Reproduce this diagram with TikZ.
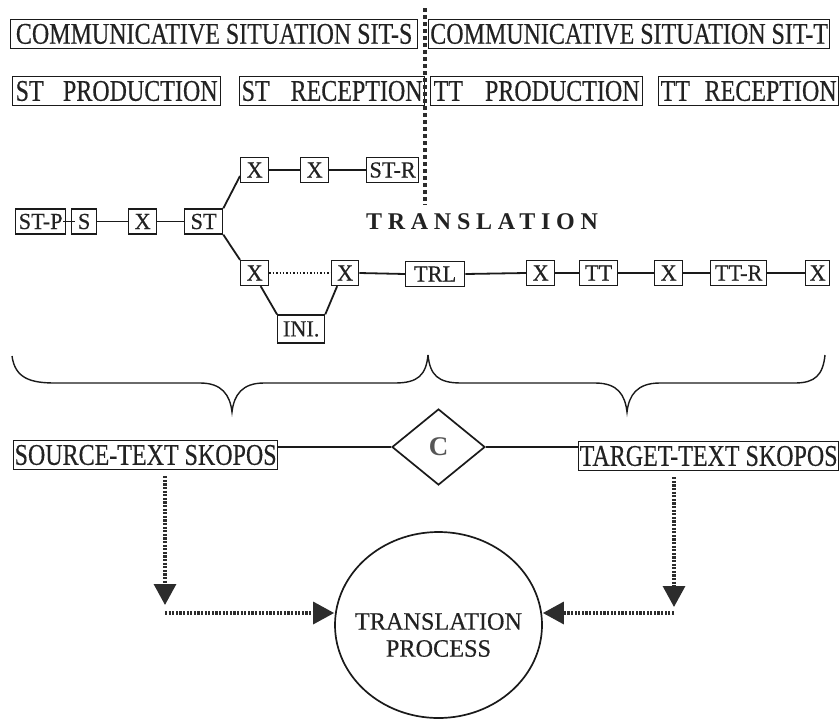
\documentclass[tikz,border=0pt]{standalone}
\usepackage{fontspec}
\setmainfont{Liberation Serif}
\newfontfamily\bigf[FakeStretch=0.8,FakeBold=0.4]{Liberation Serif}
\newfontfamily\smallf[FakeStretch=0.97,FakeBold=0.4]{Liberation Serif}
\newfontfamily\spacedf[LetterSpace=24]{Liberation Serif}
\usetikzlibrary{shapes.geometric,arrows.meta,calc}
\definecolor{ink}{HTML}{1A1A1A}
\definecolor{txt}{HTML}{222222}
\definecolor{arr}{HTML}{2C2C2C}
\begin{document}
\begin{tikzpicture}[x=1pt,y=-1pt,
  bigbox/.style={draw=ink, line width=1.3pt, inner sep=0pt, minimum height=29pt,
     font=\fontsize{30}{32}\bigf, text=txt, anchor=west},
  smallbox/.style={draw=ink, line width=1.3pt, inner sep=0pt, minimum height=25pt,
     font=\fontsize{23}{25}\smallf, text=txt, anchor=west},
  conn/.style={draw=ink, line width=1.8pt},
  dotline/.style={draw=arr, line width=3.2pt, dash pattern=on 2.2pt off 1.4pt},
  dotarrow/.style={dotline, -{Triangle[length=21pt,width=22pt,fill=arr]}},
  bracestyle/.style={draw=ink, line width=1.4pt},
]
\useasboundingbox (0,0) rectangle (840,720);

% header boxes
\node[bigbox, minimum width=407pt] (sits) at (10,34) {COMMUNICATIVE SITUATION SIT-S};
\node[bigbox, minimum width=401pt] (sitt) at (428,34) {COMMUNICATIVE SITUATION SIT-T};
\node[bigbox, minimum width=208pt, text width=202pt] (stprod) at (12,91) {ST\hfill PRODUCTION};
\node[bigbox, minimum width=185pt, text width=181pt] (strec) at (239,91) {ST\hfill RECEPTION};
\node[bigbox, minimum width=212pt, text width=206pt] (ttprod) at (430,91) {TT\hfill PRODUCTION};
\node[bigbox, minimum width=180pt, text width=176pt] (ttrec) at (658,91) {TT\hfill RECEPTION};

% divider
\coordinate (divtop) at (425,8);
\coordinate (divbot) at (425,205);
\draw[draw=arr, line width=4.5pt, dash pattern=on 4pt off 3pt] (divtop) -- (divbot);

% network
\node[smallbox, minimum width=50pt] (stp) at (15,221.5) {ST-P};
\node[smallbox, minimum width=25pt] (s) at (71,221.5) {S};
\node[smallbox, minimum width=28pt] (x1) at (128,221.5) {X};
\node[smallbox, minimum width=38pt] (st) at (184,221.5) {ST};
\node[smallbox, minimum width=28pt] (xa1) at (240,170) {X};
\node[smallbox, minimum width=28pt] (xa2) at (300,170) {X};
\node[smallbox, minimum width=52pt] (str) at (366,170) {ST-R};
\node[smallbox, minimum width=28pt] (xb1) at (240,273) {X};
\node[smallbox, minimum width=27pt] (xb2) at (331,273) {X};
\node[smallbox, minimum width=47pt, minimum height=28pt] (ini) at (277,329) {INI.};
\node[smallbox, minimum width=59pt] (trl) at (405,274) {TRL};
\node[smallbox, minimum width=28pt] (xc1) at (526,273) {X};
\node[smallbox, minimum width=38pt] (tt) at (579,273) {TT};
\node[smallbox, minimum width=28pt] (xc2) at (654,273) {X};
\node[smallbox, minimum width=56pt] (ttr) at (710,273) {TT-R};
\node[smallbox, minimum width=24pt] (xc3) at (805,273) {X};

\node[font=\fontsize{24}{26}\spacedf\bfseries, text=txt] (transl) at (482,221.5) {TRANSLATION};

\draw[conn] ($(stp.east)+(-3,0)$) -- ($(s.west)+(4,0)$);
\draw[conn] (s.east) -- (x1.west);
\draw[conn] (x1.east) -- (st.west);
\draw[conn] (st.north east) -- ($(xa1.west)+(0,6)$);
\draw[conn] (xa1.east) -- (xa2.west);
\draw[conn] (xa2.east) -- (str.west);
\draw[conn] (st.south east) -- (xb1.north west);
\draw[draw=ink, line width=1.4pt, dotted] (xb1.east) -- (xb2.west);
\draw[conn] ($(xb1.south)+(6,0)$) -- (ini.north west);
\draw[conn] ($(xb2.south)+(-8,0)$) -- (ini.north east);
\draw[conn] (xb2.east) -- (trl.west);
\draw[conn] (trl.east) -- (xc1.west);
\draw[conn] (xc1.east) -- (tt.west);
\draw[conn] (tt.east) -- (xc2.west);
\draw[conn] (xc2.east) -- (ttr.west);
\draw[conn] (ttr.east) -- (xc3.west);

% braces
\draw[bracestyle] (12,356) .. controls (15,378) and (30,383) .. (55,383) -- (200,383)
  .. controls (222,383) and (230,395) .. (232,412)
  .. controls (234,395) and (242,383) .. (264,383) -- (395,383)
  .. controls (418,383) and (426,375) .. (428,355);
\draw[bracestyle] (428,355) .. controls (430,375) and (438,383) .. (461,383) -- (595,383)
  .. controls (618,383) and (625,395) .. (627,412)
  .. controls (629,395) and (637,383) .. (660,383) -- (795,383)
  .. controls (815,383) and (823,375) .. (825,355);

% skopos row
\node[bigbox, minimum width=264pt] (src) at (13,455) {SOURCE-TEXT SKOPOS};
\node[bigbox, minimum width=260pt] (tgt) at (578,456) {TARGET-TEXT SKOPOS};
\node[draw=ink, line width=1.7pt, shape=diamond, inner sep=0pt, minimum width=93pt,
      minimum height=76pt, font=\fontsize{27}{29}\selectfont\bfseries, text=arr!80] (c) at (438.5,447) {C};
\draw[conn] (src.east |- c) -- (c.west);
\draw[conn] (c.east) -- (tgt.west |- c);

% process
\node[draw=ink, line width=1.7pt, shape=ellipse, inner sep=0pt, minimum width=207pt,
      minimum height=186pt] (proc) at (438.5,625) {};
\node[font=\fontsize{25}{27}\smallf, text=txt, align=center] (proctxt) at (438.5,635) {TRANSLATION\\PROCESS};

\coordinate (lc) at (165,613);
\coordinate (rc) at (674,613);
\draw[dotarrow] ($(src.south -| lc)+(0,6)$) -- ($(lc)+(0,-8)$);
\draw[dotarrow] (lc) -- (proc.west |- lc);
\draw[dotarrow] ($(tgt.south -| rc)+(0,6)$) -- ($(rc)+(0,-6)$);
\draw[dotarrow] (rc) -- (proc.east |- rc);
\end{tikzpicture}
\end{document}
